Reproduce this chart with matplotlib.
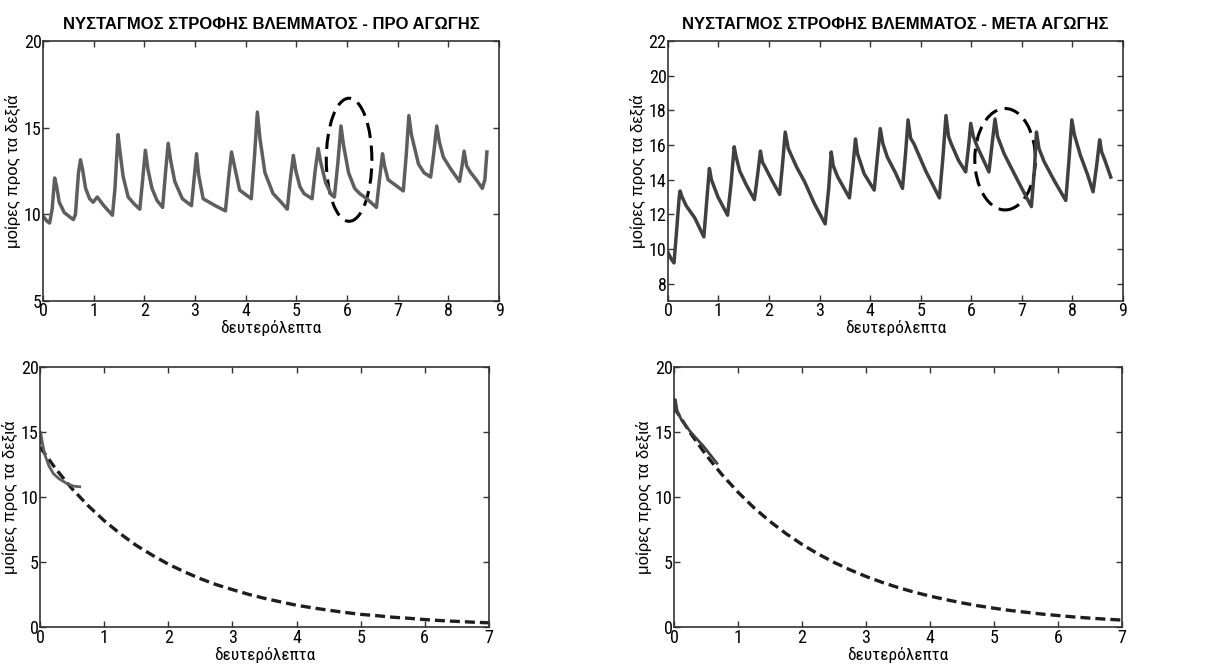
import matplotlib
matplotlib.use("Agg")
import matplotlib.pyplot as plt
from matplotlib.patches import Ellipse

plt.rcParams['font.family'] = ['Liberation Sans', 'DejaVu Sans']
narrow = ['Roboto Condensed', 'Liberation Sans Narrow', 'Liberation Sans', 'DejaVu Sans']

# top-left: before treatment
pre_t = [0.00, 0.08, 0.13, 0.18, 0.23, 0.27, 0.32, 0.42, 0.55, 0.60, 0.64, 0.70, 0.74, 0.78,
         0.84, 0.92, 0.99, 1.07, 1.20, 1.37, 1.42, 1.48, 1.52, 1.58, 1.68, 1.80, 1.91, 1.96,
         2.02, 2.07, 2.15, 2.25, 2.36, 2.42, 2.47, 2.52, 2.60, 2.75, 2.93, 2.98, 3.03, 3.07,
         3.16, 3.40, 3.60, 3.66, 3.72, 3.77, 3.88, 4.11, 4.17, 4.23, 4.28, 4.38, 4.54, 4.70,
         4.82, 4.88, 4.94, 4.99, 5.07, 5.15, 5.31, 5.37, 5.43, 5.48, 5.58, 5.70, 5.75, 5.82,
         5.88, 5.93, 6.03, 6.15, 6.25, 6.39, 6.58, 6.64, 6.70, 6.74, 6.81, 6.95, 7.11, 7.17,
         7.22, 7.27, 7.41, 7.52, 7.65, 7.71, 7.77, 7.82, 7.90, 8.05, 8.22, 8.27, 8.31, 8.36,
         8.43, 8.55, 8.67, 8.72, 8.76]
pre_deg = [9.9, 9.6, 9.5, 10.3, 12.1, 11.6, 10.7, 10.1, 9.8, 9.7, 10.0, 12.4, 13.15, 12.6,
           11.5, 10.9, 10.7, 11.0, 10.5, 9.95, 11.5, 14.6, 13.6, 12.2, 11.0, 10.6, 10.3, 11.8,
           13.7, 12.6, 11.5, 10.8, 10.4, 12.5, 14.1, 13.1, 11.9, 10.9, 10.5, 12.0, 13.5, 12.3,
           10.9, 10.5, 10.2, 12.0, 13.6, 12.9, 11.4, 10.9, 13.2, 15.9, 14.4, 12.4, 11.2, 10.7,
           10.3, 12.0, 13.4, 12.5, 11.6, 11.2, 10.9, 12.5, 13.8, 13.0, 11.8, 11.1, 11.0, 13.0,
           15.1, 14.0, 12.4, 11.5, 11.2, 10.9, 10.4, 12.0, 13.5, 12.8, 12.0, 11.7, 11.35, 13.5,
           15.7, 14.6, 12.9, 12.4, 12.15, 13.5, 15.1, 14.2, 13.3, 12.6, 11.9, 12.8, 13.65, 12.8,
           12.45, 12.0, 11.5, 12.0, 13.6]

# top-right: after treatment
post_t = [0.00, 0.07, 0.12, 0.17, 0.22, 0.24, 0.28, 0.36, 0.53, 0.71, 0.76, 0.82, 0.86, 0.99,
          1.18, 1.25, 1.31, 1.35, 1.42, 1.55, 1.71, 1.77, 1.83, 1.87, 1.91, 2.05, 2.21, 2.27,
          2.32, 2.38, 2.55, 2.70, 2.90, 3.11, 3.18, 3.23, 3.27, 3.36, 3.59, 3.66, 3.71, 3.75,
          3.88, 4.08, 4.14, 4.20, 4.25, 4.34, 4.50, 4.64, 4.70, 4.75, 4.80, 4.87, 5.10, 5.37,
          5.44, 5.50, 5.55, 5.60, 5.75, 5.89, 5.95, 5.99, 6.04, 6.12, 6.35, 6.41, 6.47, 6.52,
          6.65, 6.78, 7.00, 7.19, 7.25, 7.29, 7.34, 7.44, 7.65, 7.87, 7.93, 7.99, 8.04, 8.16,
          8.30, 8.41, 8.48, 8.54, 8.58, 8.64, 8.76]
post_deg = [9.8, 9.4, 9.2, 11.0, 12.9, 13.35, 13.0, 12.5, 11.8, 10.7, 12.5, 14.65, 14.0, 13.0,
            11.95, 13.8, 15.9, 15.3, 14.5, 13.7, 12.85, 14.2, 15.65, 15.0, 14.8, 14.0, 13.15, 15.0,
            16.75, 15.8, 14.7, 13.9, 12.6, 11.45, 13.5, 15.6, 14.8, 14.15, 12.95, 14.8, 16.35, 15.5,
            14.35, 13.4, 15.2, 16.95, 16.1, 15.3, 14.4, 13.5, 15.5, 17.45, 16.4, 16.05, 14.5, 12.95,
            15.3, 17.7, 16.5, 16.1, 15.1, 14.45, 16.0, 17.25, 16.5, 15.9, 14.45, 16.0, 17.5, 16.5,
            15.5, 14.75, 13.5, 12.45, 14.6, 16.75, 15.8, 15.05, 13.9, 12.8, 15.0, 17.45, 16.6, 15.4,
            14.3, 13.3, 14.8, 16.3, 15.6, 15.15, 14.15]

# bottom: single beat and fitted decay
fit_t = [0.0, 0.25, 0.5, 0.75, 1.0, 1.25, 1.5, 1.75, 2.0, 2.25, 2.5, 2.75, 3.0, 3.25, 3.5,
         3.75, 4.0, 4.25, 4.5, 4.75, 5.0, 5.25, 5.5, 5.75, 6.0, 6.25, 6.5, 6.75, 7.0]
pre_fit = [13.85, 12.15, 10.65, 9.35, 8.2, 7.2, 6.3, 5.55, 4.86, 4.27, 3.74, 3.28, 2.9, 2.54, 2.23,
           1.96, 1.7, 1.5, 1.32, 1.15, 1.0, 0.9, 0.78, 0.7, 0.6, 0.52, 0.46, 0.4, 0.35]
post_fit = [16.9, 14.96, 13.24, 11.72, 10.38, 9.18, 8.13, 7.2, 6.37, 5.64, 4.99, 4.42, 3.91, 3.46, 3.06,
            2.71, 2.4, 2.13, 1.88, 1.66, 1.47, 1.3, 1.16, 1.02, 0.91, 0.8, 0.71, 0.63, 0.56]
pre_beat_t = [0.0, 0.01, 0.04, 0.08, 0.14, 0.21, 0.30, 0.42, 0.52, 0.62]
pre_beat = [14.2, 15.0, 14.1, 13.2, 12.4, 11.8, 11.4, 11.05, 10.85, 10.8]
post_beat_t = [0.0, 0.02, 0.05, 0.12, 0.26, 0.47, 0.67]
post_beat = [16.6, 17.5, 16.6, 15.9, 15.0, 13.85, 12.6]

title_pre = 'ΝΥΣΤΑΓΜΟΣ ΣΤΡΟΦΗΣ ΒΛΕΜΜΑΤΟΣ - ΠΡΟ ΑΓΩΓΗΣ'
title_post = 'ΝΥΣΤΑΓΜΟΣ ΣΤΡΟΦΗΣ ΒΛΕΜΜΑΤΟΣ - ΜΕΤΑ ΑΓΩΓΗΣ'
xlab = 'δευτερόλεπτα'
ylab = 'μοίρες προς τα δεξιά'

fig = plt.figure(figsize=(12.22, 6.66), dpi=100)
ax1 = fig.add_axes([0.0352, 0.548, 0.3732, 0.3904])
ax2 = fig.add_axes([0.5466, 0.548, 0.3723, 0.3904])
ax3 = fig.add_axes([0.0327, 0.058, 0.3674, 0.391])
ax4 = fig.add_axes([0.5516, 0.058, 0.3666, 0.391])


def style(ax, xlim, ylim, yticks):
    ax.set_xlim(*xlim)
    ax.set_ylim(*ylim)
    ax.set_xticks(range(int(xlim[0]), int(xlim[1]) + 1))
    ax.set_yticks(yticks)
    ax.tick_params(direction='in', top=True, right=True, length=4, width=1,
                   labelsize=13, color='#333333')
    ax.tick_params(axis='x', pad=1)
    ax.tick_params(axis='y', pad=1)
    for lbl in ax.get_xticklabels() + ax.get_yticklabels():
        lbl.set_family(narrow)
    for s in ax.spines.values():
        s.set_color('#333333')
        s.set_linewidth(1.2)
    ax.set_xlabel(xlab, fontsize=12.5, family=narrow, labelpad=0)
    ax.set_ylabel(ylab, fontsize=12, labelpad=2)


ax1.plot(pre_t, pre_deg, color='#5e5e5e', lw=2.5)
ax1.add_patch(Ellipse((6.04, 13.15), 0.9, 7.1, fill=False, ec='black', lw=2.2,
                      linestyle=(0, (5, 2.5))))
style(ax1, (0, 9), (5, 20), [5, 10, 15, 20])
ax1.set_title(title_pre, fontsize=12, fontweight='bold', pad=9)

ax2.plot(post_t, post_deg, color='#404040', lw=2.5)
ax2.add_patch(Ellipse((6.67, 15.18), 1.2, 5.85, fill=False, ec='black', lw=2.2,
                      linestyle=(0, (5, 2.5))))
style(ax2, (0, 9), (7, 22), [8, 10, 12, 14, 16, 18, 20, 22])
ax2.set_title(title_post, fontsize=12, fontweight='bold', pad=9)

ax3.plot(fit_t, pre_fit, color='#1e1e1e', lw=2.4, linestyle=(0, (3, 1.5)))
ax3.plot(pre_beat_t, pre_beat, color='#5e5e5e', lw=2.0)
style(ax3, (0, 7), (0, 20), [0, 5, 10, 15, 20])

ax4.plot(fit_t, post_fit, color='#1e1e1e', lw=2.4, linestyle=(0, (3, 1.5)))
ax4.plot(post_beat_t, post_beat, color='#404040', lw=2.0)
style(ax4, (0, 7), (0, 20), [0, 5, 10, 15, 20])

fig.savefig('out.png', dpi=100)
